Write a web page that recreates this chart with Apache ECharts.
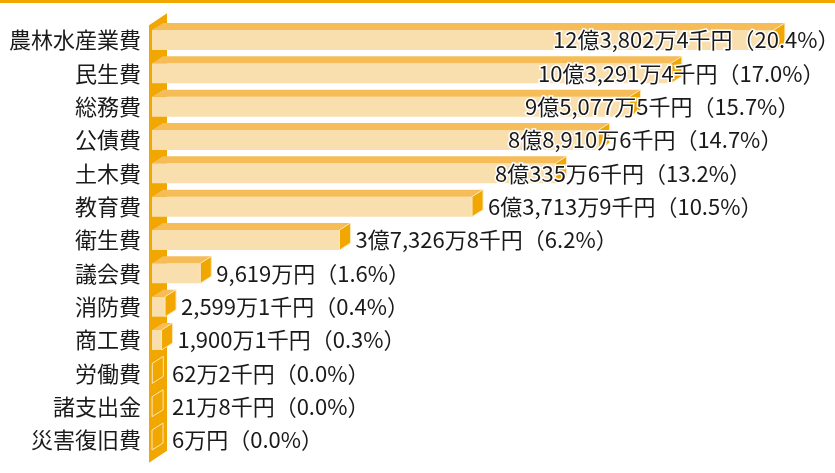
<!DOCTYPE html>
<html lang="ja">
<head>
<meta charset="UTF-8">
<title>歳出</title>
<script src="https://cdn.jsdelivr.net/npm/echarts@6/dist/echarts.min.js"></script>
<style>
    html, body { margin: 0; padding: 0; background: #fff; }
    #main { width: 835px; height: 473px; }
</style>
</head>
<body>
<div id="main"></div>
<script>
// 費目
var categories = ['農林水産業費', '民生費', '総務費', '公債費', '土木費', '教育費', '衛生費',
    '議会費', '消防費', '商工費', '労働費', '諸支出金', '災害復旧費'];
// 金額（千円）
var amounts = [1238024, 1032914, 950775, 889106, 803356, 637139, 373268,
    96190, 25991, 19001, 622, 218, 60];
// 構成比（%）
var shares = [20.4, 17.0, 15.7, 14.7, 13.2, 10.5, 6.2, 1.6, 0.4, 0.3, 0.0, 0.0, 0.0];
// 金額の表示文字列
var amountTexts = ['12億3,802万4千円', '10億3,291万4千円', '9億5,077万5千円', '8億8,910万6千円',
    '8億335万6千円', '6億3,713万9千円', '3億7,326万8千円', '9,619万円', '2,599万1千円',
    '1,900万1千円', '62万2千円', '21万8千円', '6万円'];

// 長い棒はラベルを棒の上に重ねる（左端px）
var labelLeft = [553, 538, 525, 508, 495];

var FONT = '"Noto Sans CJK JP", "Noto Sans", sans-serif';
var ORANGE = '#f1a700';
var TOP = '#f5bc57';
var FRONT = '#fadfae';

var myChart = echarts.init(document.getElementById('main'), null, { renderer: 'canvas' });

// 左側の壁
function renderWall(params, api) {
    var cs = params.coordSys;
    return {
        type: 'polygon',
        shape: {
            points: [
                [cs.x - 3, cs.y + 2],
                [cs.x + 15, cs.y - 10],
                [cs.x + 15, cs.y + cs.height - 6],
                [cs.x - 3, cs.y + cs.height + 6]
            ]
        },
        style: { fill: ORANGE }
    };
}

// 立体の棒とラベル
function renderBar(params, api) {
    var i = params.dataIndex;
    var cs = params.coordSys;
    var s = api.coord([0, i]);
    var e = api.coord([api.value(0), i]);
    var h = 20, dx = 11, dy = 7;
    var x0 = s[0], x1 = e[0], y = s[1] - h / 2;

    var tx = i < labelLeft.length ? labelLeft[i] : Math.max(x1 + dx, cs.x + 15) + 5;
    var txt = amountTexts[i] + '（' + shares[i].toFixed(1) + '%）';

    return {
        type: 'group',
        children: [
            {
                type: 'rect',
                shape: { x: x0, y: y, width: x1 - x0, height: h },
                style: { fill: FRONT }
            },
            {
                type: 'polygon',
                shape: { points: [[x0, y], [x0 + dx, y - dy], [x1 + dx, y - dy], [x1, y]] },
                style: { fill: TOP }
            },
            {
                type: 'polygon',
                shape: { points: [[x1, y], [x1 + dx, y - dy], [x1 + dx, y + h - dy], [x1, y + h]] },
                style: { fill: ORANGE, stroke: '#fde8bd', lineWidth: 1 }
            },
            {
                type: 'text',
                x: tx,
                y: s[1],
                style: {
                    text: txt,
                    fill: '#1a1a1a',
                    stroke: '#fff',
                    lineWidth: 3,
                    font: '22px ' + FONT,
                    align: 'left',
                    verticalAlign: 'middle'
                }
            }
        ]
    };
}

var option = {
    backgroundColor: '#fff',
    animation: false,
    graphic: [
        {
            type: 'rect',
            left: 0,
            top: 0,
            shape: { width: 835, height: 3 },
            style: { fill: ORANGE }
        }
    ],
    grid: {
        left: 152,
        right: 30,
        top: 23.3,
        bottom: 16.3,
        outerBoundsMode: 'none'
    },
    xAxis: {
        type: 'value',
        min: 0,
        max: 1300000,
        show: false
    },
    yAxis: {
        type: 'category',
        inverse: true,
        data: categories,
        axisLine: { show: false },
        axisTick: { show: false },
        splitLine: { show: false },
        axisLabel: {
            margin: 11,
            color: '#1a1a1a',
            fontSize: 22,
            fontFamily: FONT
        }
    },
    series: [
        {
            type: 'custom',
            z: 1,
            renderItem: renderWall,
            data: [[0, 0]],
            silent: true
        },
        {
            type: 'custom',
            z: 2,
            renderItem: renderBar,
            encode: { x: 0, y: 1 },
            data: amounts.map(function (v, i) { return [v, i]; })
        }
    ]
};

myChart.setOption(option);
</script>
</body>
</html>
